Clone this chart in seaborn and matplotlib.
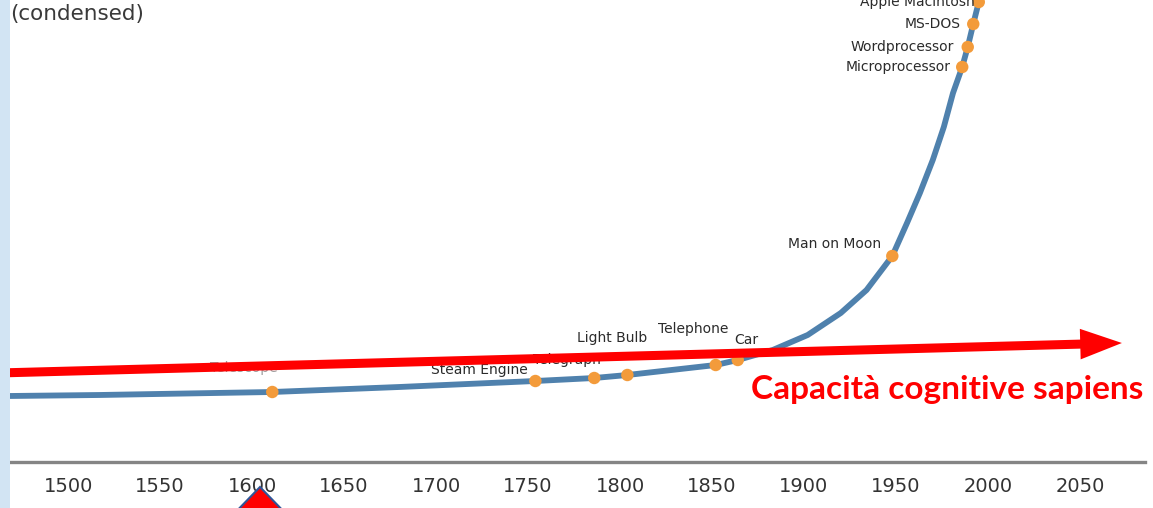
import numpy as np
import pandas as pd
import matplotlib.pyplot as plt
import seaborn as sns
from matplotlib.patches import Polygon, Rectangle

# growth curve (year, height above axis)
curve_years = [1468, 1517, 1611, 1680, 1754, 1786, 1804, 1852, 1864, 1883, 1902,
               1920, 1934, 1948, 1956, 1963, 1970, 1976, 1981, 1986, 1989, 1992,
               1995, 1997]
curve_values = [66, 67, 70, 75, 81, 84, 87, 97, 102, 112, 127,
                149, 172, 206, 239, 269, 302, 335, 369, 395, 415, 438,
                460, 474]

# inventions marked on the curve
events = ['Telescope', 'Steam Engine', 'Telegraph', 'Light Bulb', 'Telephone', 'Car',
          'Man on Moon', 'Microprocessor', 'Wordprocessor', 'MS-DOS', 'Apple Macintosh']
event_years = [1611, 1754, 1786, 1804, 1852, 1864, 1948, 1986, 1989, 1992, 1995]
event_values = [70, 81, 84, 87, 97, 102, 206, 395, 415, 438, 460]

tick_years = [1500, 1550, 1600, 1650, 1700, 1750, 1800, 1850, 1900, 1950, 2000, 2050]

# label placement (pixels, right edge of label relative to the dot)
label_offsets = {'Telescope': (5, 24), 'Steam Engine': (-8, 11), 'Telegraph': (7, 18),
                 'Light Bulb': (20, 37), 'Telephone': (13, 36), 'Car': (21, 20),
                 'Man on Moon': (-11, 12), 'Microprocessor': (-12, 0),
                 'Wordprocessor': (-14, 0), 'MS-DOS': (-13, 0), 'Apple Macintosh': (-4, 0)}

sns.set_style('white')
plt.rcParams['font.family'] = ['DejaVu Sans']

curve = pd.DataFrame({'year': curve_years, 'value': curve_values})
pts = pd.DataFrame({'event': events, 'year': event_years, 'value': event_values})

fig = plt.figure(figsize=(11.53, 5.08), dpi=100)
ax = fig.add_axes([0, 46 / 508, 1, 462 / 508])

sns.lineplot(data=curve, x='year', y='value', ax=ax, color='#4f81ad', lw=4.2,
             solid_capstyle='round', solid_joinstyle='round', zorder=2)
sns.scatterplot(data=pts, x='year', y='value', ax=ax, color='#f39b3b', s=80,
                edgecolor='none', zorder=3)

for ev, yr, v in zip(events, event_years, event_values):
    dx, dy = label_offsets[ev]
    col = '#a0a0a0' if ev == 'Telescope' else '#2b2b2b'
    ax.annotate(ev, (yr, v), xytext=(dx, dy), textcoords='offset pixels',
                ha='right', va='center', fontsize=10, color=col, zorder=4)

ax.set_xlim(1463.0, 2089.7)
ax.set_ylim(0, 462)
ax.set_xticks(tick_years)
ax.set_xticklabels([str(t) for t in tick_years], fontsize=14, color='#333333')
ax.tick_params(axis='x', length=0, pad=11)
ax.set_yticks([])
ax.set_xlabel('')
ax.set_ylabel('')
for s in ['top', 'left', 'right']:
    ax.spines[s].set_visible(False)
ax.spines['bottom'].set_color('#858585')
ax.spines['bottom'].set_linewidth(2.4)
ax.spines['bottom'].set_bounds(1468.5, 2085.3)

# red arrow and caption
ax.annotate('', xy=(2072.8, 119), xytext=(1462, 89), annotation_clip=False,
            arrowprops=dict(arrowstyle='simple,head_length=3.0,head_width=2.2,tail_width=0.65',
                            mutation_scale=10, color='#ff0000', lw=0,
                            shrinkA=0, shrinkB=0), zorder=5)
ax.text(2084.2, 72, 'Capacità cognitive sapiens', ha='right', va='center',
        fontsize=24, fontweight='bold', color='#ff0000', family=['Lato', 'DejaVu Sans'],
        zorder=5)

fig.text(10 / 1153, 1 - 14 / 508, '(condensed)', ha='left', va='center',
         fontsize=15.5, color='#3a3a3a')

# slide background bits
fig.patches.append(Rectangle((0, 0), 10 / 1153, 1, transform=fig.transFigure,
                             facecolor='#d2e4f3', edgecolor='none', zorder=0))
fig.patches.append(Polygon([(260 / 1153, 1 - 487 / 508), (215 / 1153, -0.05),
                            (305 / 1153, -0.05)], closed=True, transform=fig.transFigure,
                           facecolor='#ff0000', edgecolor='#2f5597', lw=1.5, zorder=6))

fig.savefig('out.png', dpi=100)
